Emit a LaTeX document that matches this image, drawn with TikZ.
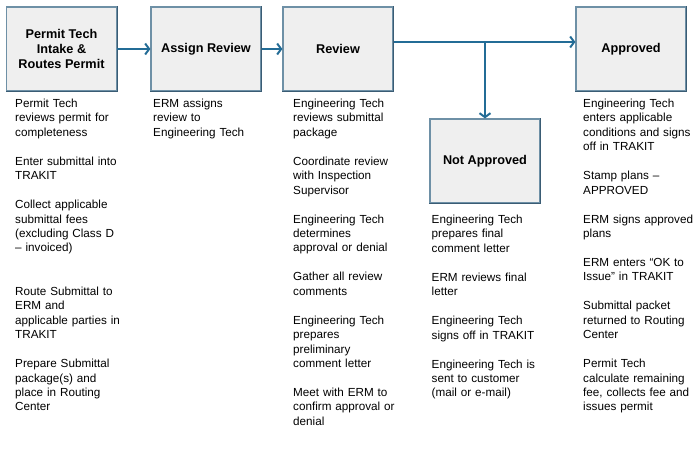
\documentclass[tikz,border=0pt]{standalone}
\usepackage{fontspec}
\setmainfont{Liberation Sans}
\usetikzlibrary{arrows.meta}
\definecolor{boxfill}{HTML}{EFEFEF}
\definecolor{boxedge}{HTML}{6E90A6}
\definecolor{boxdark}{HTML}{3A5C74}
\definecolor{arrowc}{HTML}{236C96}
\tikzset{
  stepbox/.style={rectangle, fill=boxfill, draw=boxedge, line width=1.2pt,
    minimum width=110pt, minimum height=84pt, inner sep=2pt, align=center,
    font=\fontsize{12.7}{15}\selectfont\bfseries},
  desc/.style={anchor=base west, inner sep=0pt, text width=140pt, align=left,
    font=\fontsize{11.7}{14.45}\selectfont},
  arr/.style={draw=arrowc, line width=2pt,
    -{Straight Barb[length=4pt,width=11pt,line width=2pt]}},
  flow/.style={draw=arrowc, line width=2pt}
}
\newcommand{\darkedge}[1]{\draw[boxdark, line width=1.2pt] (#1.north east) -- (#1.south east) -- (#1.south west);}
\begin{document}
\begin{tikzpicture}[x=1pt, y=-1pt]
\useasboundingbox (0,0) rectangle (699,452);
\node[stepbox] (b1) at (61.5,49) {Permit Tech\\Intake \&\\Routes Permit};
\node[stepbox] (b2) at (206,49) {Assign Review};
\node[stepbox] (b3) at (338,49) {Review};
\node[stepbox] (b5) at (631,49) {Approved};
\node[stepbox] (b4) at (485,161) {Not Approved};
\foreach \b in {b1,b2,b3,b4,b5} {\darkedge{\b}}

\coordinate (j) at (485,42);
\draw[arr] (b1.east) -- (b2.west);
\draw[arr] (b2.east) -- (b3.west);
\draw[arr] (b3.east |- j) -- (b5.west |- j);
\draw[arr] (j) -- (b4.north);

\node[desc] (t1) at (15,107.5) {Permit Tech\\reviews permit for\\completeness\\[14.45pt]
Enter submittal into\\TRAKIT\\[14.45pt]
Collect applicable\\submittal fees\\(excluding Class D\\– invoiced)\\[28.9pt]
Route Submittal to\\ERM and\\applicable parties in\\TRAKIT\\[14.45pt]
Prepare Submittal\\package(s) and\\place in Routing\\Center};

\node[desc] (t2) at (153,107.5) {ERM assigns\\review to\\Engineering Tech};

\node[desc] (t3) at (293,107.5) {Engineering Tech\\reviews submittal\\package\\[14.45pt]
Coordinate review\\with Inspection\\Supervisor\\[14.45pt]
Engineering Tech\\determines\\approval or denial\\[14.45pt]
Gather all review\\comments\\[14.45pt]
Engineering Tech\\prepares\\preliminary\\comment letter\\[14.45pt]
Meet with ERM to\\confirm approval or\\denial};

\node[desc] (t4) at (431.5,223.5) {Engineering Tech\\prepares final\\comment letter\\[14.45pt]
ERM reviews final\\letter\\[14.45pt]
Engineering Tech\\signs off in TRAKIT\\[14.45pt]
Engineering Tech is\\sent to customer\\(mail or e-mail)};

\node[desc] (t5) at (583,107.5) {Engineering Tech\\enters applicable\\conditions and signs\\off in TRAKIT\\[14.45pt]
Stamp plans –\\APPROVED\\[14.45pt]
ERM signs approved\\plans\\[14.45pt]
ERM enters “OK to\\Issue” in TRAKIT\\[14.45pt]
Submittal packet\\returned to Routing\\Center\\[14.45pt]
Permit Tech\\calculate remaining\\fee, collects fee and\\issues permit};
\end{tikzpicture}
\end{document}
